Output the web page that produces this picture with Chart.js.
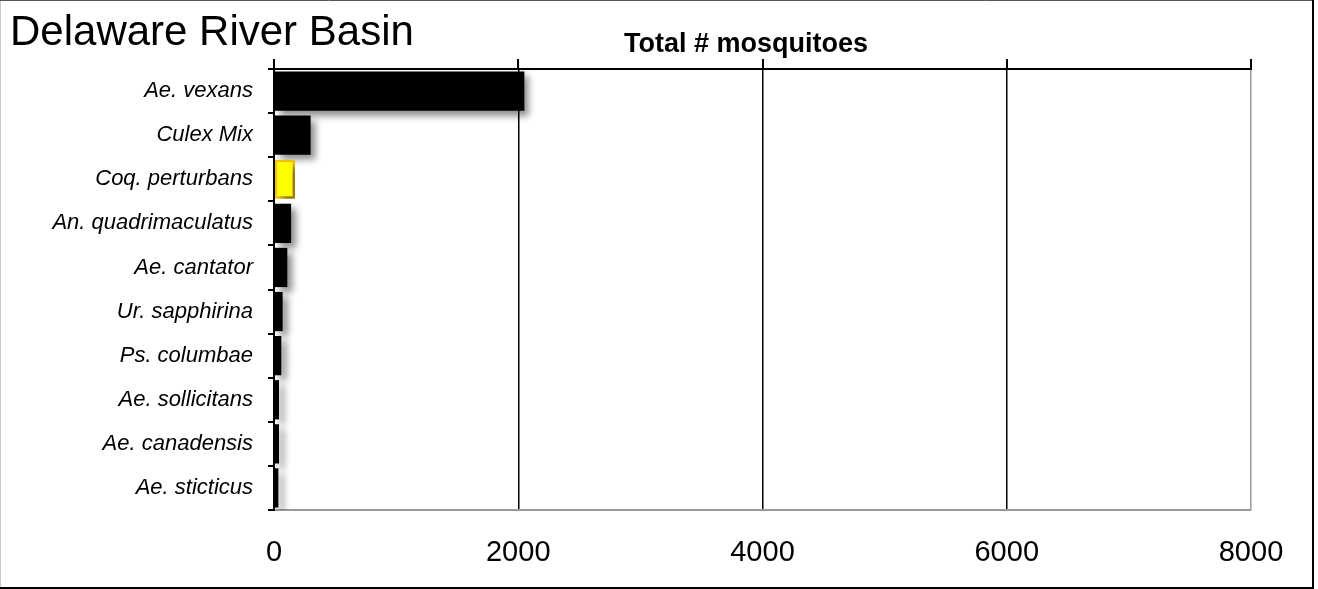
<!DOCTYPE html>
<html>
<head>
<meta charset="utf-8">
<script src="https://cdn.jsdelivr.net/npm/chart.js@4.4.0/dist/chart.umd.min.js"></script>
<style>
  html, body { margin: 0; padding: 0; background: #fff; }
  canvas { display: block; }
</style>
</head>
<body>
<canvas id="chart" width="1318" height="589"></canvas>
<script>
const species = ['Ae. vexans', 'Culex Mix', 'Coq. perturbans', 'An. quadrimaculatus', 'Ae. cantator',
                 'Ur. sapphirina', 'Ps. columbae', 'Ae. sollicitans', 'Ae. canadensis', 'Ae. sticticus'];
const totals = [2050, 300, 172, 140, 109, 71, 60, 41, 41, 36];
const xTicks = [0, 2000, 4000, 6000, 8000];
const highlighted = 'Coq. perturbans';
const mainTitle = 'Delaware River Basin';
const axisTitle = 'Total # mosquitoes';

const FONT = '"Liberation Sans", Arial, sans-serif';
const ctx = document.getElementById('chart').getContext('2d');

// white background, box around the picture and the two titles
const frame = {
    id: 'frame',
    beforeDraw(chart) {
        const c = chart.ctx;
        c.save();
        c.fillStyle = '#fff';
        c.fillRect(0, 0, chart.width, chart.height);
        c.restore();
    },
    afterDraw(chart) {
        const c = chart.ctx;
        c.save();
        c.lineWidth = 1;
        c.strokeStyle = '#c8c8c8';
        c.beginPath(); c.moveTo(0.5, 0); c.lineTo(0.5, 588); c.stroke();
        c.strokeStyle = '#555';
        c.beginPath(); c.moveTo(0, 0.5); c.lineTo(1314, 0.5); c.stroke();
        c.lineWidth = 2;
        c.strokeStyle = '#000';
        c.beginPath(); c.moveTo(1313, 0); c.lineTo(1313, 588); c.lineTo(0, 588); c.stroke();

        c.fillStyle = '#000';
        c.textBaseline = 'alphabetic';
        c.textAlign = 'left';
        c.font = '42px ' + FONT;
        c.fillText(mainTitle, 10, 45);
        c.textAlign = 'center';
        c.font = 'bold 27px ' + FONT;
        c.fillText(axisTitle, 746, 52);
        c.restore();
    }
};

// soft drop shadow under the bars
const barShadow = {
    id: 'barShadow',
    beforeDatasetsDraw(chart) {
        const c = chart.ctx;
        c.save();
        c.shadowColor = 'rgba(0,0,0,0.45)';
        c.shadowBlur = 7;
        c.shadowOffsetX = 5;
        c.shadowOffsetY = 5;
    },
    afterDatasetsDraw(chart) {
        chart.ctx.restore();
    }
};

const chart = new Chart(ctx, {
    type: 'bar',
    data: {
        labels: species,
        datasets: [{
            data: totals,
            xAxisID: 'x',
            backgroundColor: species.map(s => s === highlighted ? '#ffff00' : '#000'),
            borderColor: species.map(s => s === highlighted ? '#f5c400' : '#000'),
            borderWidth: species.map(s => s === highlighted ? 2.5 : 0),
            borderSkipped: false,
            barPercentage: 0.89,
            categoryPercentage: 1
        }]
    },
    options: {
        indexAxis: 'y',
        responsive: false,
        devicePixelRatio: 1,
        animation: false,
        layout: { padding: { left: 0, right: 67, top: 59, bottom: 0 } },
        plugins: {
            legend: { display: false },
            tooltip: { enabled: false }
        },
        scales: {
            x: {
                type: 'linear',
                position: 'bottom',
                min: 0,
                max: 8000,
                afterBuildTicks: s => { s.ticks = xTicks.map(v => ({ value: v })); },
                afterFit: s => { s.height = 79; },
                grid: {
                    drawTicks: false,
                    lineWidth: 1.5,
                    color: c => c.tick && c.tick.value === 0 ? 'rgba(0,0,0,0)'
                              : (c.tick && c.tick.value === 8000 ? '#9a9a9a' : '#000')
                },
                border: { color: '#9a9a9a', width: 2 },
                ticks: {
                    padding: 26,
                    color: '#000',
                    font: { family: FONT, size: 29 },
                    callback: v => String(v)
                }
            },
            xTop: {
                type: 'linear',
                position: 'top',
                min: 0,
                max: 8000,
                afterBuildTicks: s => { s.ticks = xTicks.map(v => ({ value: v })); },
                afterFit: s => { s.height = 10; },
                grid: {
                    drawOnChartArea: false,
                    tickLength: 10,
                    lineWidth: 2,
                    color: '#000'
                },
                border: { color: '#000', width: 2 },
                ticks: { display: false }
            },
            y: {
                type: 'category',
                offset: true,
                afterFit: s => { s.width = 274; },
                grid: {
                    offset: true,
                    drawOnChartArea: false,
                    tickLength: 6,
                    lineWidth: 2,
                    color: '#000'
                },
                border: { color: '#000', width: 2 },
                ticks: {
                    padding: 15,
                    color: '#000',
                    font: { family: FONT, size: 22, style: 'italic' }
                }
            }
        }
    },
    plugins: [frame, barShadow]
});
</script>
</body>
</html>
